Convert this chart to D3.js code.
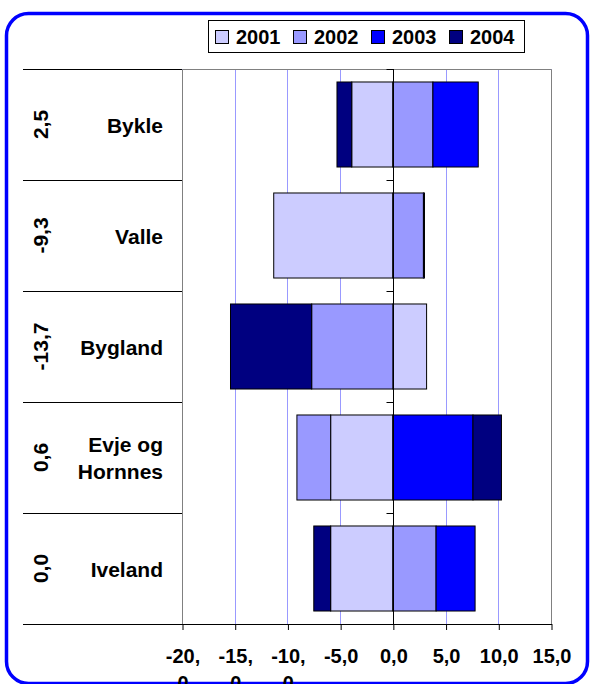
<!DOCTYPE html>
<html lang="no">
<head>
<meta charset="UTF-8">
<title>Befolkning</title>
<script src="https://cdn.jsdelivr.net/npm/d3@7"></script>
<style>
  body { margin: 0; background: #fff; }
  text { font-family: "Liberation Sans", Arial, sans-serif; font-weight: bold; fill: #000; }
</style>
</head>
<body>
<svg width="590" height="684" id="mainsvg"></svg>
<script>
// data
const categories = ['Bykle', 'Valle', 'Bygland', 'Evje og\nHornnes', 'Iveland']
const rowValues = [2.5, -9.3, -13.7, 0.6, 0.0]
const years = ['2001', '2002', '2003', '2004']
const v2001 = [-3.9, -11.3, 3.2, -5.9, -5.9]
const v2002 = [3.8, 2.9, -7.7, -3.2, 4.1]
const v2003 = [4.3, 0.1, 0, 7.6, 3.7]
const v2004 = [-1.4, 0, -7.7, 2.7, -1.6]
const tickValues = [-20, -15, -10, -5, 0, 5, 10, 15]
const colors = ['#CCCCFF', '#9999FF', '#0000FF', '#000080']

const series = [v2001, v2002, v2003, v2004]
const table = categories.map((c, i) => {
  const row = { cat: c }
  years.forEach((y, j) => row[y] = series[j][i])
  return row
})

const svg = d3.select('#mainsvg')
const nb = d3.formatLocale({ decimal: ',', thousands: ' ', grouping: [3], currency: ['', ' kr'], minus: '-' })
const fmt = nb.format('.1f')

const pLeft = 182, pRight = 551, pTop = 69, pBottom = 624, catLeft = 23

const x = d3.scaleLinear().domain([-20, 15]).range([pLeft, pRight])
const y = d3.scaleBand().domain(categories).range([pTop, pBottom])
  .paddingInner(0.234).paddingOuter(0.117)

// outer frame
svg.append('rect')
  .attr('x', 6.5).attr('y', 13.5).attr('width', 581).attr('height', 670)
  .attr('rx', 22).attr('fill', 'none').attr('stroke', '#0000FF').attr('stroke-width', 3.5)

// gridlines
svg.append('g').selectAll('line').data(tickValues).enter().append('line')
  .attr('x1', d => Math.round(x(d)) + 0.5).attr('x2', d => Math.round(x(d)) + 0.5)
  .attr('y1', pTop).attr('y2', pBottom)
  .attr('stroke', '#9999FF').attr('stroke-width', 1)

// plot border (gray)
svg.append('path')
  .attr('d', `M${pLeft + 0.5},${pBottom}V${pTop + 0.5}H${pRight + 0.5}V${pBottom}`)
  .attr('fill', 'none').attr('stroke', '#808080').attr('stroke-width', 1)

// row separators in the category column
const bounds = categories.map(c => y(c) - y.step() * y.paddingInner() / 2)
bounds.push(pBottom)
svg.append('g').selectAll('line').data(bounds).enter().append('line')
  .attr('x1', catLeft).attr('x2', pLeft)
  .attr('y1', d => Math.round(d) + 0.5).attr('y2', d => Math.round(d) + 0.5)
  .attr('stroke', '#000').attr('stroke-width', 1)

// stacked bars
const stack = d3.stack().keys(years).offset(d3.stackOffsetDiverging)
const stacked = stack(table)
svg.append('g').selectAll('g').data(stacked).enter().append('g')
  .attr('fill', (d, i) => colors[i])
  .selectAll('rect').data(d => d).enter().append('rect')
  .attr('x', d => x(Math.min(d[0], d[1])))
  .attr('width', d => Math.abs(x(d[1]) - x(d[0])))
  .attr('y', d => y(d.data.cat))
  .attr('height', y.bandwidth())
  .attr('stroke', '#000').attr('stroke-width', 1)
  .attr('display', d => d[1] === d[0] ? 'none' : null)

// zero axis with ticks at row boundaries
const x0 = Math.round(x(0)) + 0.5
svg.append('line').attr('x1', x0).attr('x2', x0).attr('y1', pTop).attr('y2', pBottom)
  .attr('stroke', '#000').attr('stroke-width', 1)
svg.append('g').selectAll('line').data(bounds).enter().append('line')
  .attr('x1', x0 - 7).attr('x2', x0)
  .attr('y1', d => Math.round(d) + 0.5).attr('y2', d => Math.round(d) + 0.5)
  .attr('stroke', '#000')

// x axis
svg.append('line').attr('x1', catLeft).attr('x2', pRight + 1)
  .attr('y1', pBottom + 0.5).attr('y2', pBottom + 0.5).attr('stroke', '#000')
const xAxis = d3.axisBottom(x).tickValues(tickValues).tickSize(6).tickFormat(fmt)
const ax = svg.append('g').attr('transform', `translate(0.5,${pBottom})`).call(xAxis)
ax.select('.domain').remove()
ax.selectAll('.tick line').attr('stroke', '#000')
ax.selectAll('.tick text').each(function (d) {
  const s = fmt(d)
  const t = d3.select(this).text(null)
    .attr('font-size', 20).attr('font-family', null).attr('y', 39).attr('dy', null)
  if (s.length > 4) {
    // long labels wrap after the comma, as in the original
    const k = s.indexOf(',') + 1
    t.append('tspan').attr('x', 0).text(s.slice(0, k))
    t.append('tspan').attr('x', 0).attr('dy', 27).text(s.slice(k))
  } else {
    t.text(s)
  }
})

// category labels
svg.append('g').selectAll('text').data(categories).enter().append('text')
  .attr('text-anchor', 'end').attr('font-size', 21)
  .each(function (c) {
    const lines = c.split('\n')
    const cy = y(c) + y.bandwidth() / 2 + 8
    const lh = 26.5
    lines.forEach((ln, i) => {
      d3.select(this).append('tspan').attr('x', 163)
        .attr('y', cy + (i - (lines.length - 1) / 2) * lh).text(ln)
    })
  })

// rotated values
svg.append('g').selectAll('text').data(categories).enter().append('text')
  .attr('text-anchor', 'middle').attr('font-size', 21)
  .attr('transform', c => `translate(48,${y(c) + y.bandwidth() / 2}) rotate(-90)`)
  .text((c, i) => fmt(rowValues[i]))

// legend
const lg = svg.append('g')
lg.append('rect').attr('x', 208.5).attr('y', 20.5).attr('width', 316).attr('height', 32)
  .attr('fill', '#fff').attr('stroke', '#000').attr('stroke-width', 1)
const items = lg.selectAll('g').data(years).enter().append('g')
  .attr('transform', (d, i) => `translate(${215 + i * 78},0)`)
items.append('rect').attr('x', 0.5).attr('y', 30.5).attr('width', 13).attr('height', 13)
  .attr('fill', (d, i) => colors[i]).attr('stroke', '#000')
items.append('text').attr('x', 21).attr('y', 44).attr('font-size', 20).text(d => d)
</script>
</body>
</html>
